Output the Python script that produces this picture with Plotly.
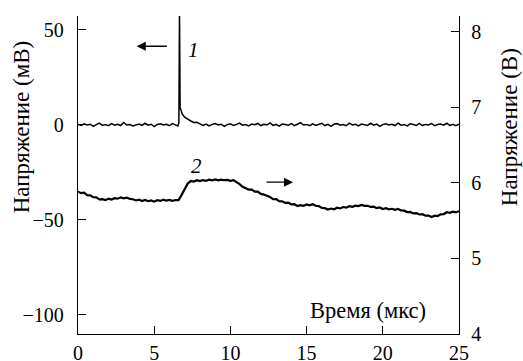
import plotly.graph_objects as go

# ---- data ----
# Trace 1: voltage (mV), left axis
t1 = [0.0, 0.2, 0.4, 0.6, 0.8, 1.0, 1.2, 1.4, 1.6, 1.8, 2.0, 2.2, 2.4, 2.6, 2.8, 3.0,
      3.2, 3.4, 3.6, 3.8, 4.0, 4.2, 4.4, 4.6, 4.8, 5.0, 5.2, 5.4, 5.6, 5.8, 6.0, 6.2, 6.4,
      6.55, 6.62, 6.66, 6.7, 6.76, 6.85, 7.0, 7.2, 7.4, 7.6, 7.8, 8.0,
      8.2, 8.4, 8.6, 8.8, 9.0, 9.2, 9.4, 9.6, 9.8, 10.0, 10.2, 10.4, 10.6, 10.8, 11.0,
      11.2, 11.4, 11.6, 11.8, 12.0, 12.2, 12.4, 12.6, 12.8, 13.0, 13.2, 13.4, 13.6, 13.8,
      14.0, 14.2, 14.4, 14.6, 14.8, 15.0, 15.2, 15.4, 15.6, 15.8, 16.0, 16.2, 16.4, 16.6,
      16.8, 17.0, 17.2, 17.4, 17.6, 17.8, 18.0, 18.2, 18.4, 18.6, 18.8, 19.0, 19.2, 19.4,
      19.6, 19.8, 20.0, 20.2, 20.4, 20.6, 20.8, 21.0, 21.2, 21.4, 21.6, 21.8, 22.0, 22.2,
      22.4, 22.6, 22.8, 23.0, 23.2, 23.4, 23.6, 23.8, 24.0, 24.2, 24.4, 24.6, 24.8, 25.0]
v1 = [0.2, -0.4, 0.5, -0.1, 0.3, -0.8, 0.1, 0.9, -0.3, 0.1, -0.5, 0.6, -0.2, 0.3, -0.4, 1.2,
      -0.1, 0.2, -0.6, 0.1, 0.4, -0.3, 0.8, -0.2, 0.3, -0.9, 0.2, 0.5, -0.1, 0.3, -0.5, 0.6, -0.2,
      -0.6, 1.0, 60.0, 9.0, 7.0, 5.5, 4.0, 2.8, 2.0, 1.2, 1.3, 0.5,
      -0.3, 0.4, -0.6, 0.2, 0.7, -0.1, 0.3, -0.8, 0.1, 0.5, -0.4, 0.2, 0.9, -0.2, 0.1,
      -0.6, 0.4, 0.0, 0.7, -0.4, 0.3, -0.1, 1.0, -0.3, 0.2, -0.7, 0.4, 0.1, -0.2,
      0.6, -0.5, 0.3, 1.1, -0.1, 0.2, -0.5, 0.5, -0.3, 0.1, 0.8, -0.4, 0.2, -0.8,
      0.3, 0.6, -0.2, 0.1, -0.5, 0.9, -0.1, 0.3, -0.6, 0.4, 0.0, -0.3, 0.8, -0.2,
      0.4, -0.8, 0.1, 0.5, -0.1, 0.3, -0.4, 0.9, -0.2, 0.1, -0.6, 0.5, 0.2, -0.3,
      0.7, -0.4, 0.2, -0.1, 0.6, -0.5, 0.1, 0.4, -0.2, 0.8, -0.3, 0.2, -0.5, 0.3]

# Trace 2: voltage (V), right axis
t2 = [0.0, 0.2, 0.4, 0.6, 0.8, 1.0, 1.2, 1.4, 1.6, 1.8, 2.0, 2.2, 2.4, 2.6, 2.8, 3.0,
      3.2, 3.4, 3.6, 3.8, 4.0, 4.2, 4.4, 4.6, 4.8, 5.0, 5.2, 5.4, 5.6, 5.8, 6.0, 6.2, 6.4,
      6.6, 6.8, 7.0, 7.2, 7.4, 7.6, 7.8, 8.0, 8.2, 8.4, 8.6, 8.8, 9.0, 9.2, 9.4, 9.6, 9.8,
      10.0, 10.2, 10.4, 10.6, 10.8, 11.0, 11.2, 11.4, 11.6, 11.8, 12.0, 12.2, 12.4, 12.6,
      12.8, 13.0, 13.2, 13.4, 13.6, 13.8, 14.0, 14.2, 14.4, 14.6, 14.8, 15.0, 15.2, 15.4,
      15.6, 15.8, 16.0, 16.2, 16.4, 16.6, 16.8, 17.0, 17.2, 17.4, 17.6, 17.8, 18.0, 18.2,
      18.4, 18.6, 18.8, 19.0, 19.2, 19.4, 19.6, 19.8, 20.0, 20.2, 20.4, 20.6, 20.8, 21.0,
      21.2, 21.4, 21.6, 21.8, 22.0, 22.2, 22.4, 22.6, 22.8, 23.0, 23.2, 23.4, 23.6, 23.8,
      24.0, 24.2, 24.4, 24.6, 24.8, 25.0]
v2 = [5.885, 5.865, 5.872, 5.838, 5.835, 5.812, 5.808, 5.782, 5.786, 5.772, 5.793, 5.781,
      5.798, 5.792, 5.809, 5.795, 5.806, 5.788, 5.784, 5.768, 5.779, 5.761, 5.775, 5.758,
      5.768, 5.752, 5.771, 5.762, 5.778, 5.765, 5.776, 5.763, 5.774, 5.772, 5.842, 5.928,
      5.992, 6.025, 6.018, 6.036, 6.024, 6.038, 6.029, 6.042, 6.033, 6.046, 6.035, 6.044,
      6.036, 6.041, 6.028, 6.037, 6.012, 5.984, 5.948, 5.935, 5.912, 5.911, 5.884, 5.886,
      5.855, 5.846, 5.826, 5.815, 5.784, 5.786, 5.758, 5.756, 5.735, 5.738, 5.715, 5.718,
      5.695, 5.706, 5.698, 5.716, 5.704, 5.718, 5.698, 5.694, 5.668, 5.666, 5.648, 5.661,
      5.652, 5.671, 5.662, 5.681, 5.673, 5.692, 5.683, 5.699, 5.694, 5.708, 5.696, 5.697,
      5.682, 5.685, 5.668, 5.676, 5.655, 5.667, 5.651, 5.658, 5.644, 5.655, 5.636, 5.633,
      5.614, 5.616, 5.596, 5.601, 5.582, 5.586, 5.566, 5.568, 5.548, 5.566, 5.562, 5.585,
      5.588, 5.612, 5.604, 5.621, 5.612, 5.626]

x_ticks = [0, 5, 10, 15, 20, 25]
y1_ticks = [-100, -50, 0, 50]
y1_text = ["\u2212100", "\u221250", "0", "50"]
y2_ticks = [4, 5, 6, 7, 8]

FONT = "Liberation Serif"

fig = go.Figure()
fig.add_trace(go.Scatter(x=t1, y=v1, mode="lines",
                         line=dict(color="black", width=1.5), yaxis="y"))
fig.add_trace(go.Scatter(x=t2, y=v2, mode="lines",
                         line=dict(color="black", width=2.2), yaxis="y2"))

axis_common = dict(showline=True, linecolor="black", linewidth=1.3,
                   ticks="inside", ticklen=8, tickwidth=1.3, tickcolor="black",
                   showgrid=False, zeroline=False, automargin=False,
                   tickfont=dict(family=FONT, size=20, color="black"))

fig.update_layout(
    template="none",
    width=523, height=361,
    margin=dict(l=78, r=64, t=16, b=27, autoexpand=False),
    paper_bgcolor="white", plot_bgcolor="white",
    showlegend=False,
    font=dict(family=FONT, size=20, color="black"),
    xaxis=dict(range=[0, 25], tickvals=x_ticks, ticklabelstandoff=1, **axis_common),
    yaxis=dict(range=[-110, 57.2], tickvals=y1_ticks, ticktext=y1_text,
               ticklabelstandoff=9, **axis_common),
    yaxis2=dict(range=[4, 8.21], tickvals=y2_ticks, overlaying="y", side="right",
                ticklabelstandoff=7, **axis_common),
    annotations=[
        dict(text="Напряжение (мВ)", xref="paper", yref="paper", x=-0.148, y=0.652,
             xanchor="center", yanchor="middle", textangle=-90, showarrow=False,
             font=dict(family=FONT, size=23, color="black")),
        dict(text="Напряжение (В)", xref="paper", yref="paper", x=1.1325, y=0.652,
             xanchor="center", yanchor="middle", textangle=-90, showarrow=False,
             font=dict(family=FONT, size=23, color="black")),
        dict(text="Время (мкс)", xref="x", yref="paper", x=19.0, y=0.075,
             xanchor="center", yanchor="middle", showarrow=False,
             font=dict(family=FONT, size=22.5, color="black")),
        dict(text="<i>1</i>", xref="x", yref="y", x=7.55, y=39.2, showarrow=False,
             xanchor="center", yanchor="middle",
             font=dict(family=FONT, size=21, color="black")),
        dict(text="<i>2</i>", xref="x", yref="y2", x=7.79, y=6.23, showarrow=False,
             xanchor="center", yanchor="middle",
             font=dict(family=FONT, size=21, color="black")),
        dict(text="", xref="x", yref="y", x=3.85, y=41.3, axref="x", ayref="y",
             ax=5.93, ay=41.3, showarrow=True, arrowhead=2, arrowsize=1.4,
             arrowwidth=1.3, arrowcolor="black"),
        dict(text="", xref="x", yref="y2", x=14.11, y=6.01, axref="x", ayref="y2",
             ax=12.27, ay=6.01, showarrow=True, arrowhead=2, arrowsize=1.4,
             arrowwidth=1.3, arrowcolor="black"),
    ],
)

fig.write_html("out.html", config={"displayModeBar": False},
               post_script="document.body.style.margin='0';document.body.style.padding='0';")
